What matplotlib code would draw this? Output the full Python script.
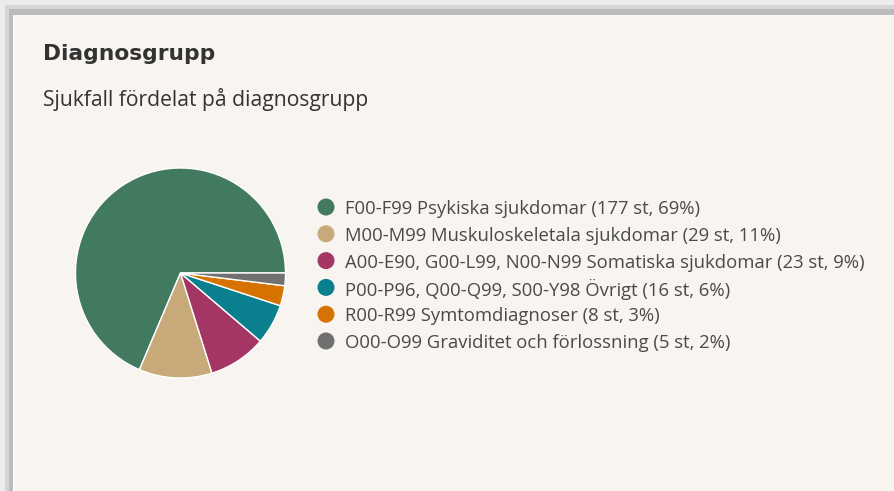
import matplotlib
matplotlib.use('Agg')
import matplotlib.pyplot as plt
from matplotlib.patches import Rectangle

# Data
groups = ['F00-F99 Psykiska sjukdomar',
          'M00-M99 Muskuloskeletala sjukdomar',
          'A00-E90, G00-L99, N00-N99 Somatiska sjukdomar',
          'P00-P96, Q00-Q99, S00-Y98 Övrigt',
          'R00-R99 Symtomdiagnoser',
          'O00-O99 Graviditet och förlossning']
counts = [177, 29, 23, 16, 8, 5]
percents = [69, 11, 9, 6, 3, 2]
colors = ['#417a5f', '#c8a97a', '#a33664', '#0a7f8d', '#d67300', '#707070']

W, H = 894, 491
fig = plt.figure(figsize=(W / 100, H / 100), dpi=100)
fig.patch.set_facecolor('#f4f4f4')


def px(x, y, w, h):
    return (x / W, 1 - (y + h) / H, w / W, h / H)


# card shadow + card
for off, col in [(0, '#ececec'), (5, '#d6d6d6'), (9, '#bcbcbc')]:
    x, y, w, h = px(off, off, W, H)
    fig.patches.append(Rectangle((x, y), w, h, transform=fig.transFigure,
                                 facecolor=col, edgecolor='none', zorder=-10))
x, y, w, h = px(13, 15, W, H)
fig.patches.append(Rectangle((x, y), w, h, transform=fig.transFigure,
                             facecolor='#fbfbfb', edgecolor='none', zorder=-10))
x, y, w, h = px(15, 15, W, H)
fig.patches.append(Rectangle((x, y), w, h, transform=fig.transFigure,
                             facecolor='#f8f5f1', edgecolor='none', zorder=-10))

fig.text(43 / W, 1 - 60 / H, 'Diagnosgrupp', fontsize=15.7, fontweight='bold',
         family='DejaVu Sans', color='#333333', va='baseline')
fig.text(43 / W, 1 - 106 / H, 'Sjukfall fördelat på diagnosgrupp', fontsize=15.2,
         family='Open Sans', color='#333333', va='baseline')

# pie
cx, cy, r = 180.5, 273, 105
ax = fig.add_axes([(cx - r) / W, 1 - (cy + r) / H, 2 * r / W, 2 * r / H])
ax.pie(counts, colors=colors, startangle=0, counterclock=True, radius=1,
       wedgeprops=dict(edgecolor='white', linewidth=1.0))
ax.set_xlim(-1, 1)
ax.set_ylim(-1, 1)
ax.set_aspect('auto')
ax.axis('off')

# legend (rows in pixel units)
labels = [f'{g} ({c} st, {p}%)' for g, c, p in zip(groups, counts, percents)]
lx0, ly0, lw, lh = 300, 190, 560, 170
lax = fig.add_axes(px(lx0, ly0, lw, lh))
lax.set_xlim(lx0, lx0 + lw)
lax.set_ylim(ly0 + lh, ly0)
lax.axis('off')
rows = [207 + 26.8 * i for i in range(len(labels))]
lax.scatter([326] * len(labels), rows, s=150, c=colors, edgecolors='none')
for yy, lab in zip(rows, labels):
    lax.text(345, yy, lab, fontsize=13.3, family='Open Sans', color='#4a4a4a',
             va='center_baseline', ha='left')

fig.savefig('out.png', dpi=100, facecolor=fig.get_facecolor())
